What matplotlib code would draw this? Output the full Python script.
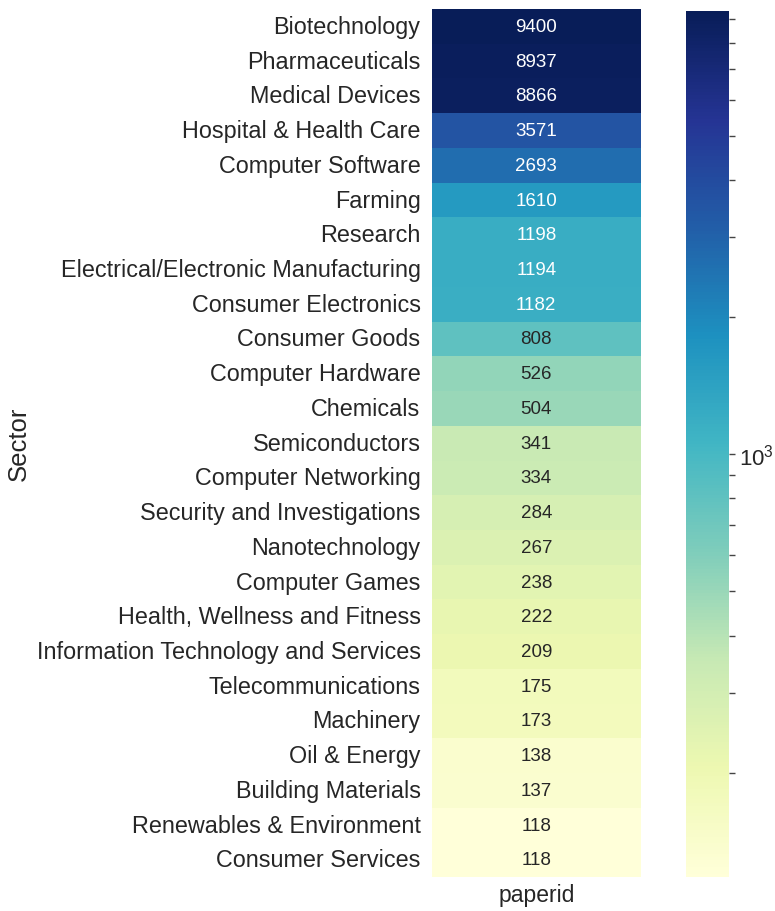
"""Sector paper counts as a log-scaled heatmap."""

import matplotlib

matplotlib.use("Agg")
import matplotlib.pyplot as plt
import numpy as np
import pandas as pd
import seaborn as sns
from matplotlib.colors import LogNorm

SECTORS = [
    "Biotechnology", "Pharmaceuticals", "Medical Devices", "Hospital & Health Care",
    "Computer Software", "Farming", "Research", "Electrical/Electronic Manufacturing",
    "Consumer Electronics", "Consumer Goods", "Computer Hardware", "Chemicals",
    "Semiconductors", "Computer Networking", "Security and Investigations",
    "Nanotechnology", "Computer Games", "Health, Wellness and Fitness",
    "Information Technology and Services", "Telecommunications", "Machinery",
    "Oil & Energy", "Building Materials", "Renewables & Environment", "Consumer Services",
]
PAPER_COUNTS = [
    9400, 8937, 8866, 3571, 2693, 1610, 1198, 1194, 1182, 808, 526, 504,
    341, 334, 284, 267, 238, 222, 209, 175, 173, 138, 137, 118, 118,
]

sns.set_theme(style="white", font_scale=1.4)
plt.rcParams["font.family"] = ["Liberation Sans", "DejaVu Sans"]

df = pd.DataFrame({"paperid": PAPER_COUNTS}, index=pd.Index(SECTORS, name="Sector"))

fig = plt.figure(figsize=(7.75, 9.12), dpi=100)
ax = fig.add_axes([0.557, 0.037, 0.27, 0.952])
cax = fig.add_axes([0.885, 0.037, 0.056, 0.950])

norm = LogNorm(vmin=min(PAPER_COUNTS), vmax=max(PAPER_COUNTS))
sns.heatmap(df, ax=ax, cbar_ax=cax, cmap="YlGnBu", norm=norm,
            annot=True, fmt="d", annot_kws={"fontsize": 13.5})

ax.tick_params(axis="both", length=0, labelsize=16.8, pad=8)
ax.set_ylabel("Sector", fontsize=18.5, labelpad=4)
ax.set_xlabel("")
ax.set_xticklabels(["paperid"], fontsize=16.5)
ax.tick_params(axis="x", pad=4)
ax.set_yticklabels(SECTORS, rotation=0)

cax.tick_params(which="both", right=True, length=4, width=1, color="#444444",
                labelsize=16, pad=3)

fig.savefig("out.png", dpi=100)
